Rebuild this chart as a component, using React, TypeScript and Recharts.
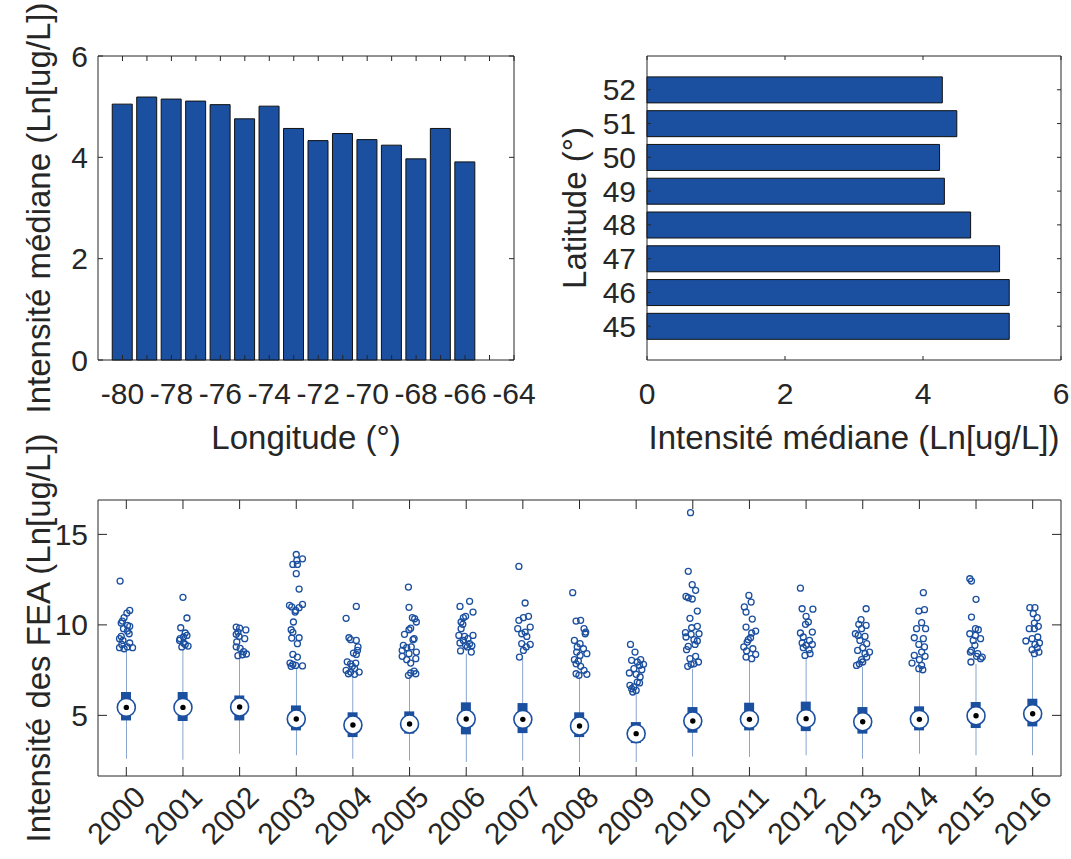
import { BarChart, Bar, ComposedChart, Scatter, XAxis, YAxis, ReferenceArea, Label } from 'recharts'

const FONT = '"Liberation Sans", Arial, Helvetica, sans-serif'
const INK = '#262626'
const BLUE = '#1b4f9f'
const TICK_FS = 30
const LABEL_FS = 33

// median intensity by longitude
const longitudes = [-80, -79, -78, -77, -76, -75, -74, -73, -72, -71, -70, -69, -68, -67, -66]
const lonMedian = [5.05, 5.19, 5.15, 5.11, 5.04, 4.76, 5.01, 4.57, 4.33, 4.47, 4.35, 4.24, 3.97, 4.57, 3.91]
const lonTicks = [-80, -79, -78, -77, -76, -75, -74, -73, -72, -71, -70, -69, -68, -67, -66, -65, -64]
const intensityTicks = [0, 2, 4, 6]

// median intensity by latitude
const latitudes = [45, 46, 47, 48, 49, 50, 51, 52]
const latMedian = [5.25, 5.25, 5.11, 4.69, 4.31, 4.24, 4.49, 4.28]

// yearly FEA intensity distribution
const years = [2000, 2001, 2002, 2003, 2004, 2005, 2006, 2007, 2008, 2009, 2010, 2011, 2012, 2013, 2014, 2015, 2016]
const whiskerLow = [2.61, 2.55, 2.88, 2.79, 2.61, 2.51, 2.42, 2.51, 2.42, 2.42, 2.73, 2.7, 2.79, 2.61, 2.88, 2.79, 2.79]
const q1 = [4.72, 4.69, 4.72, 4.17, 3.8, 3.99, 3.95, 4.02, 3.8, 3.47, 4.04, 4.17, 4.13, 3.99, 4.17, 4.3, 4.39]
const medians = [5.44, 5.44, 5.46, 4.8, 4.47, 4.52, 4.8, 4.78, 4.41, 3.99, 4.69, 4.78, 4.82, 4.65, 4.78, 4.98, 5.09]
const q3 = [6.29, 6.29, 6.1, 5.55, 5.17, 5.22, 5.72, 5.68, 5.17, 4.63, 5.46, 5.7, 5.76, 5.46, 5.5, 5.74, 5.92]
const whiskerHigh = [8.6, 8.68, 8.26, 7.58, 7.21, 7.12, 8.41, 8.13, 7.12, 6.2, 7.58, 8.04, 8.13, 7.67, 7.49, 7.85, 8.22]
const yearTicks = [5, 10, 15]

const outlierValues = [
  [12.42, 10.8, 10.65, 10.4, 10.21, 10.1, 9.97, 9.92, 9.79, 9.66, 9.51, 9.36, 9.24, 9.14, 9.0, 8.92, 8.78, 8.74, 8.74, 8.68],
  [11.52, 10.38, 9.84, 9.55, 9.42, 9.33, 9.24, 9.14, 9.0, 8.92, 8.83, 8.78],
  [9.88, 9.82, 9.72, 9.6, 9.48, 9.37, 9.24, 9.06, 8.79, 8.7, 8.52, 8.39, 8.3, 8.35],
  [13.89, 13.65, 13.56, 13.34, 13.34, 12.83, 11.98, 11.13, 11.08, 10.99, 10.95, 10.8, 10.71, 10.16, 9.73, 9.59, 9.29, 9.27, 8.96, 8.37, 8.22, 7.89, 7.82, 7.73, 7.71, 7.76],
  [11.02, 10.36, 9.29, 9.18, 9.14, 8.78, 8.59, 8.44, 8.37, 7.96, 7.85, 7.89, 7.71, 7.58, 7.49, 7.39, 7.39, 7.3, 7.27],
  [12.09, 10.97, 10.4, 10.34, 10.16, 9.82, 9.73, 9.48, 9.24, 9.18, 8.87, 8.78, 8.74, 8.59, 8.5, 8.41, 8.26, 8.13, 8.08, 7.89, 7.45, 7.34, 7.3, 7.21],
  [11.3, 11.02, 10.71, 10.47, 10.4, 10.16, 10.03, 9.79, 9.42, 9.42, 9.36, 9.24, 9.14, 9.0, 8.96, 8.87, 8.85, 8.78, 8.56, 8.5],
  [13.23, 11.21, 10.47, 10.4, 10.25, 9.88, 9.79, 9.6, 9.51, 9.36, 8.96, 8.92, 8.78, 8.59, 8.22],
  [11.78, 10.21, 10.25, 9.79, 9.6, 9.51, 9.14, 8.96, 8.78, 8.68, 8.5, 8.41, 8.31, 8.08, 8.0, 7.85, 7.71, 7.49, 7.3, 7.27, 7.21],
  [8.92, 8.5, 8.08, 8.04, 7.95, 7.82, 7.76, 7.58, 7.52, 7.34, 7.27, 7.12, 6.84, 6.79, 6.66, 6.57, 6.47, 6.38, 6.29],
  [16.2, 12.96, 12.22, 11.91, 11.57, 11.5, 11.43, 10.76, 10.36, 9.92, 9.84, 9.57, 9.51, 9.48, 9.33, 9.18, 9.11, 8.92, 8.81, 8.63, 8.26, 8.13, 7.95, 7.85, 7.82, 7.71],
  [11.63, 11.26, 10.99, 10.71, 10.32, 9.88, 9.66, 9.55, 9.29, 9.18, 9.05, 8.78, 8.68, 8.56, 8.37, 8.22, 8.13],
  [12.03, 10.89, 10.87, 10.47, 10.16, 10.03, 9.6, 9.55, 9.33, 9.14, 9.0, 8.92, 8.87, 8.74, 8.63, 8.41, 8.31],
  [10.89, 10.29, 10.03, 9.97, 9.79, 9.51, 9.42, 9.36, 9.14, 8.96, 8.74, 8.59, 8.5, 8.41, 8.22, 8.08, 7.95, 7.85, 7.76],
  [11.78, 10.84, 10.76, 10.12, 9.79, 9.79, 9.29, 9.24, 8.92, 8.78, 8.5, 8.31, 8.26, 8.08, 7.89, 7.76, 7.58, 7.52],
  [12.55, 12.42, 11.41, 10.43, 9.79, 9.73, 9.51, 9.42, 9.24, 9.14, 8.87, 8.59, 8.5, 8.41, 8.26, 8.22, 8.13, 7.95],
  [10.95, 10.95, 10.62, 10.4, 10.1, 9.92, 9.79, 9.79, 9.33, 9.24, 9.11, 9.0, 8.92, 8.74, 8.63, 8.5, 8.41],
]

// horizontal jitter of each outlier, in years
const outlierJitter = [
  [-0.11, 0.06, 0.01, -0.04, -0.07, -0.09, 0.02, 0.06, -0.05, 0.02, 0.05, -0.09, -0.12, -0.06, 0.06, -0.08, 0.02, 0.11, -0.12, -0.04],
  [0, 0.07, -0.04, 0.04, 0.07, 0.01, -0.05, -0.06, 0.01, 0.04, 0.09, -0.02],
  [-0.06, 0, 0.11, -0.03, -0.06, -0.01, 0.09, -0.05, -0.06, 0.01, 0.07, 0.12, -0.03, 0.05],
  [0, 0.11, 0.01, -0.06, 0.02, 0, 0.05, 0.11, -0.12, -0.08, 0.05, -0.01, -0.02, -0.05, -0.09, -0.06, 0.05, -0.08, 0.02, -0.06, 0.02, -0.11, -0.06, 0.11, -0.09, -0.01],
  [0.06, -0.12, -0.07, -0.04, 0.06, 0.09, 0.08, 0.01, 0.06, -0.1, -0.04, 0.05, -0.01, 0.03, -0.12, -0.04, 0.11, -0.08, 0.03],
  [-0.02, -0.01, 0.05, 0.09, 0.12, 0.02, -0.01, -0.09, 0.08, 0.06, -0.11, 0.03, -0.05, -0.13, 0.12, -0.01, -0.13, 0.11, -0.05, 0.02, 0.08, 0.02, 0.11, -0.02],
  [0.06, -0.11, 0.12, -0.01, -0.05, -0.09, -0.06, -0.09, -0.13, 0.12, -0.03, 0.03, -0.05, -0.11, 0.06, -0.01, 0.1, 0.02, -0.1, 0.09],
  [-0.07, 0.04, 0.1, 0.01, -0.07, 0.13, -0.09, 0.04, -0.02, 0.07, -0.02, 0.13, 0.06, 0.01, -0.06],
  [-0.12, -0.06, 0.02, 0.08, 0.11, 0.1, -0.09, 0.01, -0.04, 0.07, -0.05, 0.13, 0.01, -0.09, -0.02, -0.06, 0.02, 0.08, -0.06, 0.13, -0.01],
  [-0.1, -0.02, 0.08, -0.08, 0.02, 0.13, 0.06, -0.04, 0.1, -0.12, 0, 0.07, 0.02, 0.06, -0.11, -0.04, -0.08, 0, -0.06],
  [-0.04, -0.08, -0.01, 0.05, -0.12, -0.08, -0.01, 0.08, -0.05, 0.08, -0.02, -0.13, 0.11, -0.03, -0.12, 0.02, 0.08, 0.04, -0.08, -0.11, 0.05, -0.05, 0.1, 0.02, -0.03, -0.09],
  [-0.01, 0.03, -0.09, -0.06, 0.05, -0.06, 0.11, 0.04, 0.02, -0.02, -0.04, -0.1, 0.06, -0.05, 0.11, -0.06, 0.04],
  [-0.1, -0.07, 0.12, 0, 0.04, -0.01, 0.11, -0.1, -0.05, 0.06, -0.07, 0.11, 0, -0.05, 0.05, 0.07, -0.02],
  [0.06, -0.03, -0.07, 0.06, -0.02, -0.13, -0.08, 0.04, -0.05, 0.07, 0, -0.09, 0.12, 0.04, 0.07, -0.02, 0, -0.06, -0.11],
  [0.07, 0.09, -0.01, 0.04, -0.05, 0.11, -0.09, 0.07, -0.01, 0.09, 0.04, -0.09, 0.1, 0, -0.13, 0.04, -0.01, 0.06],
  [-0.11, -0.08, 0, -0.08, -0.01, 0.04, -0.11, -0.01, 0.08, -0.05, -0.02, -0.08, -0.1, 0.03, 0.01, 0.11, 0.08, -0.09],
  [-0.05, 0.04, 0.01, 0.08, 0.03, 0.1, -0.06, 0.03, 0.09, -0.01, -0.12, 0.12, 0.04, 0.08, -0.01, 0.11, 0.03],
]

const lonData = longitudes.map((lon, i) => ({ lon, value: lonMedian[i] }))
const latData = latitudes.map((lat, i) => ({ lat, value: latMedian[i] }))
const boxData = years.map((year, i) => ({
  year,
  whisker: [whiskerLow[i], whiskerHigh[i]],
  box: [q1[i], q3[i]],
  median: medians[i],
}))
const outlierData = years.flatMap((year, i) =>
  outlierValues[i].map((value, j) => ({ year: year + outlierJitter[i][j], value })),
)

const textStyle = { fontFamily: FONT, fill: INK }

// inward tick marks on both horizontal edges, label below
const makeXTick = (top: number, bottom: number, len: number, labelY: number, showLabel: (v: number) => boolean) =>
  (props: any) => {
    const { x, payload } = props
    return (
      <g>
        <line x1={x} x2={x} y1={bottom} y2={bottom - len} stroke={INK} />
        <line x1={x} x2={x} y1={top} y2={top + len} stroke={INK} />
        {showLabel(payload.value) && (
          <text x={x} y={labelY} textAnchor="middle" dominantBaseline="central" fontSize={TICK_FS} {...textStyle}>
            {payload.value}
          </text>
        )}
      </g>
    )
  }

// inward tick marks on both vertical edges, label to the left
const makeYTick = (left: number, right: number, len: number, labelX: number) =>
  (props: any) => {
    const { y, payload } = props
    return (
      <g>
        <line x1={left} x2={left + len} y1={y} y2={y} stroke={INK} />
        <line x1={right} x2={right - len} y1={y} y2={y} stroke={INK} />
        <text x={labelX} y={y} textAnchor="end" dominantBaseline="central" fontSize={TICK_FS} {...textStyle}>
          {payload.value}
        </text>
      </g>
    )
  }

// box panel sits 410px down the page; its plot spans local y 90..366
const BOX_TOP = 90
const BOX_BOTTOM = 366

const YearTick = (props: any) => {
  const { x, payload } = props
  const tx = x + 21
  const ty = 389
  return (
    <g>
      <line x1={x} x2={x} y1={BOX_BOTTOM} y2={BOX_BOTTOM - 9} stroke={INK} />
      <line x1={x} x2={x} y1={BOX_TOP} y2={BOX_TOP + 9} stroke={INK} />
      <text x={tx} y={ty} textAnchor="end" fontSize={TICK_FS} transform={`rotate(-45 ${tx} ${ty})`} {...textStyle}>
        {payload.value}
      </text>
    </g>
  )
}

const axisLabel = (text: string, x: number, y: number, vertical = false) => () => (
  <text
    x={x}
    y={y}
    textAnchor="middle"
    dominantBaseline="central"
    fontSize={LABEL_FS}
    transform={vertical ? `rotate(-90 ${x} ${y})` : undefined}
    {...textStyle}
  >
    {text}
  </text>
)

const MedianMarker = (props: any) => (
  <g>
    <circle cx={props.cx} cy={props.cy} r={9} fill="#fff" stroke={BLUE} strokeWidth={1.6} />
    <circle cx={props.cx} cy={props.cy} r={2.7} fill="#000" />
  </g>
)

const OutlierMarker = (props: any) => (
  <circle cx={props.cx} cy={props.cy} r={3} fill="none" stroke={BLUE} strokeWidth={1.3} />
)

export default function App() {
  return (
    <div style={{ position: 'absolute', left: 0, top: 0, width: 1071, height: 859, background: '#fff' }}>
      <div style={{ position: 'absolute', left: 0, top: 0 }}>
        <BarChart width={540} height={460} data={lonData} margin={{ top: 56, right: 26, left: 38, bottom: 70 }}>
          <XAxis
            dataKey="lon"
            type="number"
            domain={[-81, -64]}
            ticks={lonTicks}
            interval={0}
            height={30}
            axisLine={false}
            tickLine={false}
            tick={makeXTick(56, 360, 5, 393, (v) => v % 2 === 0)}
          >
            <Label value="Longitude (°)" content={axisLabel('Longitude (°)', 306, 437)} />
          </XAxis>
          <YAxis
            type="number"
            domain={[0, 6]}
            ticks={intensityTicks}
            interval={0}
            width={60}
            axisLine={false}
            tickLine={false}
            tick={makeYTick(98, 514, 5, 88)}
          >
            <Label
              value="Intensité médiane (Ln[ug/L])"
              content={axisLabel('Intensité médiane (Ln[ug/L])', 38, 208, true)}
            />
          </YAxis>
          <Bar dataKey="value" fill={BLUE} stroke="#111" strokeWidth={1} barSize={20} isAnimationActive={false} />
          <ReferenceArea x1={-81} x2={-64} y1={0} y2={6} fill="none" stroke={INK} strokeWidth={1} />
        </BarChart>
      </div>

      <div style={{ position: 'absolute', left: 540, top: 0 }}>
        <BarChart
          width={531}
          height={460}
          data={latData}
          layout="vertical"
          margin={{ top: 56, right: 10, left: 47, bottom: 70 }}
        >
          <XAxis
            type="number"
            domain={[0, 6]}
            ticks={intensityTicks}
            interval={0}
            height={30}
            axisLine={false}
            tickLine={false}
            tick={makeXTick(56, 360, 4, 393, () => true)}
          >
            <Label
              value="Intensité médiane (Ln[ug/L])"
              content={axisLabel('Intensité médiane (Ln[ug/L])', 314, 437)}
            />
          </XAxis>
          <YAxis
            dataKey="lat"
            type="number"
            domain={[44, 53]}
            ticks={latitudes}
            interval={0}
            width={60}
            reversed
            axisLine={false}
            tickLine={false}
            tick={makeYTick(107, 521, 4, 96)}
          >
            <Label value="Latitude (°)" content={axisLabel('Latitude (°)', 34, 208, true)} />
          </YAxis>
          <Bar dataKey="value" fill={BLUE} stroke="#111" strokeWidth={1} barSize={26} isAnimationActive={false} />
          <ReferenceArea x1={0} x2={6} y1={44} y2={53} fill="none" stroke={INK} strokeWidth={1} />
        </BarChart>
      </div>

      <div style={{ position: 'absolute', left: 0, top: 410 }}>
        <ComposedChart
          width={1071}
          height={449}
          data={boxData}
          margin={{ top: BOX_TOP, right: 10, left: 38, bottom: 53 }}
        >
          <XAxis
            xAxisId="w"
            dataKey="year"
            type="number"
            domain={[1999.5, 2016.5]}
            ticks={years}
            interval={0}
            height={30}
            axisLine={false}
            tickLine={false}
            tick={YearTick}
          />
          <XAxis xAxisId="b" dataKey="year" type="number" domain={[1999.5, 2016.5]} hide />
          <YAxis
            type="number"
            domain={[1.65, 16.9]}
            ticks={yearTicks}
            interval={0}
            width={60}
            axisLine={false}
            tickLine={false}
            allowDataOverflow
            tick={makeYTick(98, 1061, 9, 88)}
          >
            <Label
              value="Intensité des FEA (Ln[ug/L])"
              content={axisLabel('Intensité des FEA (Ln[ug/L])', 38, 228, true)}
            />
          </YAxis>
          <Bar xAxisId="w" dataKey="whisker" fill={BLUE} barSize={2.4} isAnimationActive={false} />
          <Bar xAxisId="b" dataKey="box" fill={BLUE} barSize={10} isAnimationActive={false} />
          <Scatter
            xAxisId="w"
            data={boxData}
            dataKey="median"
            shape={MedianMarker}
            isAnimationActive={false}
          />
          <Scatter
            xAxisId="w"
            data={outlierData}
            dataKey="value"
            shape={OutlierMarker}
            isAnimationActive={false}
          />
          <ReferenceArea
            xAxisId="w"
            x1={1999.5}
            x2={2016.5}
            y1={1.65}
            y2={16.9}
            fill="none"
            stroke={INK}
            strokeWidth={1}
          />
        </ComposedChart>
      </div>
    </div>
  )
}
